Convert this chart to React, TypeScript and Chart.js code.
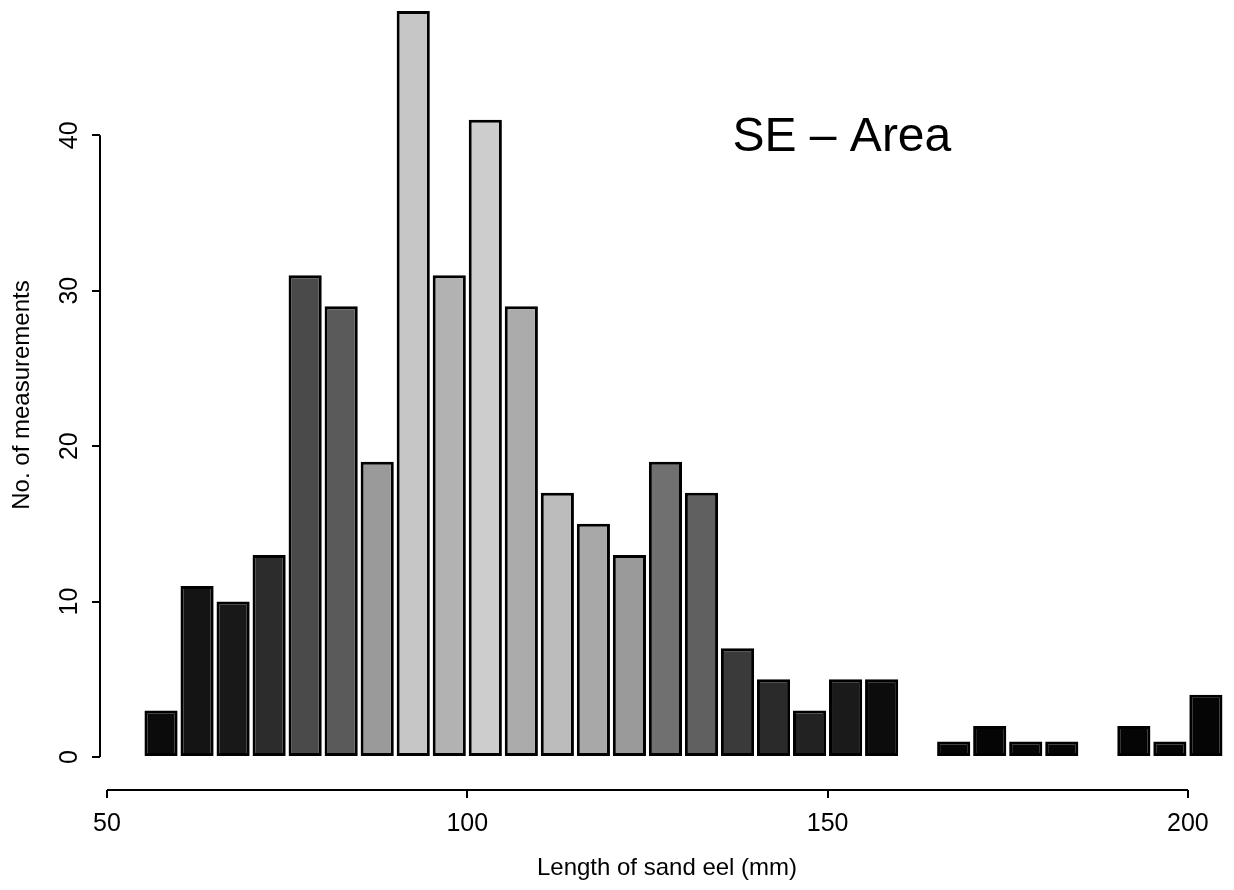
import React, { useEffect, useRef } from "react";
import { Chart, registerables } from "chart.js";

Chart.register(...registerables);

// Histogram bins (mm): centre of each 5 mm bin
const binCenters = [
  57.5, 62.5, 67.5, 72.5, 77.5, 82.5, 87.5, 92.5, 97.5, 102.5,
  107.5, 112.5, 117.5, 122.5, 127.5, 132.5, 137.5, 142.5, 147.5, 152.5,
  157.5, 162.5, 167.5, 172.5, 177.5, 182.5, 187.5, 192.5, 197.5, 202.5,
];
// Number of measurements per bin (null = empty bin)
const counts: (number | null)[] = [
  3, 11, 10, 13, 31, 29, 19, 48, 31, 41,
  29, 17, 15, 13, 19, 17, 7, 5, 3, 5,
  5, null, 1, 2, 1, 1, null, 2, 1, 4,
];
const xTicks = [50, 100, 150, 200];
const yTicks = [0, 10, 20, 30, 40];

const xTitle = "Length of sand eel (mm)";
const yTitle = "No. of measurements";
const areaLabel = "SE – Area";

// bar shading (style only)
const barShades = [
  "#0b0b0b", "#141414", "#181818", "#2c2c2c", "#4a4a4a", "#5a5a5a", "#9a9a9a", "#c6c6c6", "#b2b2b2", "#cdcdcd",
  "#ababab", "#bcbcbc", "#a8a8a8", "#9a9a9a", "#707070", "#606060", "#3a3a3a", "#2a2a2a", "#222222", "#1a1a1a",
  "#0c0c0c", "#050505", "#050505", "#050505", "#050505", "#050505", "#050505", "#050505", "#050505", "#050505",
];

const FONT = "'Liberation Sans', Arial, Helvetica, sans-serif";

const axisLinesPlugin = {
  id: "axisLines",
  afterDraw(chart: any) {
    const { ctx, chartArea, scales } = chart;
    const xs = scales.x;
    const ys = scales.y;
    ctx.save();
    ctx.strokeStyle = "#000";
    ctx.lineWidth = 2;
    ctx.beginPath();
    ctx.moveTo(chartArea.left, ys.getPixelForValue(yTicks[0]));
    ctx.lineTo(chartArea.left, ys.getPixelForValue(yTicks[yTicks.length - 1]));
    ctx.moveTo(xs.getPixelForValue(xTicks[0]), chartArea.bottom);
    ctx.lineTo(xs.getPixelForValue(xTicks[xTicks.length - 1]), chartArea.bottom);
    ctx.stroke();

    ctx.fillStyle = "#000";
    ctx.font = `48px ${FONT}`;
    ctx.textAlign = "left";
    ctx.textBaseline = "alphabetic";
    ctx.fillText(areaLabel, xs.getPixelForValue(136.8), ys.getPixelForValue(39.0));
    ctx.restore();
  },
};

export default function App() {
  const ref = useRef<HTMLCanvasElement | null>(null);

  useEffect(() => {
    document.body.style.margin = "0";
    const canvas = ref.current;
    if (!canvas) return;
    const chart = new Chart(canvas, {
      type: "bar",
      data: {
        datasets: [
          {
            data: binCenters.map((x, i) => ({ x, y: counts[i] })) as any,
            backgroundColor: barShades,
            borderColor: "#000",
            borderWidth: 3,
            borderSkipped: false,
            barPercentage: 0.92,
            categoryPercentage: 1,
          },
        ],
      },
      options: {
        responsive: false,
        animation: false,
        layout: { padding: 0 },
        plugins: {
          legend: { display: false },
          tooltip: { enabled: false },
        },
        scales: {
          x: {
            type: "linear",
            offset: false,
            min: 49.03,
            max: 206.4,
            afterBuildTicks: (s: any) => {
              s.ticks = xTicks.map((v) => ({ value: v }));
            },
            afterFit: (s: any) => {
              s.height = 100;
              s.paddingLeft = 0;
              s.paddingRight = 0;
            },
            border: { display: false },
            grid: {
              offset: false,
              drawOnChartArea: false,
              drawTicks: true,
              tickLength: 8,
              color: "#000",
              lineWidth: 2,
            },
            ticks: {
              color: "#000",
              font: { family: FONT, size: 25 },
              padding: 11,
              maxRotation: 0,
              minRotation: 0,
              autoSkip: false,
            },
            title: {
              display: true,
              text: xTitle,
              color: "#000",
              font: { family: FONT, size: 24 },
              padding: { top: 0, bottom: 7 },
            },
          },
          y: {
            type: "linear",
            min: -2.12,
            max: 48.7,
            afterBuildTicks: (s: any) => {
              s.ticks = yTicks.map((v) => ({ value: v }));
            },
            afterFit: (s: any) => {
              s.width = 100;
              s.paddingTop = 0;
              s.paddingBottom = 0;
            },
            border: { display: false },
            grid: {
              drawOnChartArea: false,
              drawTicks: true,
              tickLength: 8,
              color: "#000",
              lineWidth: 2,
            },
            ticks: {
              color: "#000",
              font: { family: FONT, size: 25 },
              padding: 8,
              minRotation: 90,
              maxRotation: 90,
              crossAlign: "center",
              autoSkip: false,
            },
            title: {
              display: true,
              text: yTitle,
              color: "#000",
              font: { family: FONT, size: 24 },
              padding: { top: 8, bottom: 0 },
            },
          },
        },
      },
      plugins: [axisLinesPlugin],
    });
    return () => chart.destroy();
  }, []);

  return (
    <div style={{ width: 1234, height: 890, background: "#fff" }}>
      <canvas ref={ref} width={1234} height={890} style={{ display: "block" }} />
    </div>
  );
}
